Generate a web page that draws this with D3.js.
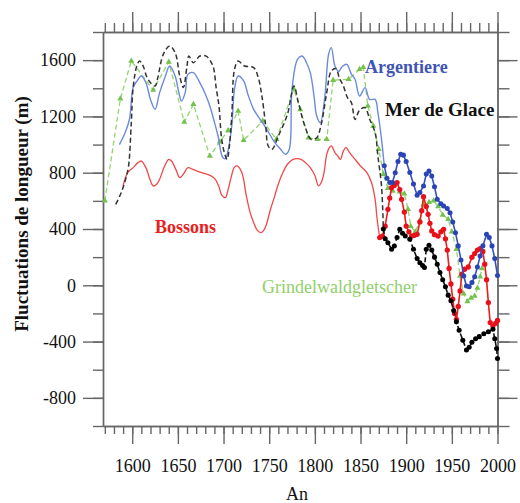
<!DOCTYPE html>
<html>
<head>
<meta charset="utf-8">
<script src="https://cdn.jsdelivr.net/npm/d3@7"></script>
<style>
  body { margin: 0; background: #fff; }
  svg { display: block; }
</style>
</head>
<body>
<div id="chart"></div>
<script>
// glacier length fluctuations: [year, metres]
const argentiereHist = [[1586,1000],[1592,1080],[1597,1180],[1601,1405],[1605,1450],[1610,1487],[1615,1440],[1620,1320],[1625,1250],[1630,1369],[1636,1480],[1641,1558],[1647,1487],[1651,1370],[1654,1309],[1658,1369],[1661,1499],[1667,1511],[1674,1440],[1680,1360],[1685,1274],[1690,1160],[1694,1061],[1699,910],[1702,900],[1705,960],[1709,1132],[1712,1393],[1716,1487],[1722,1452],[1727,1350],[1733,1250],[1739,1190],[1745,1132],[1750,1080],[1755,1025],[1762,970],[1768,931],[1772,966],[1775,1393],[1781,1606],[1786,1629],[1791,1580],[1795,1511],[1799,1350],[1802,1203],[1806,1156],[1811,1345],[1815,1640],[1818,1689],[1822,1558],[1826,1520],[1830,1555],[1835,1570],[1840,1500],[1844,1464],[1849,1345],[1855,1405],[1860,1321],[1866,1321],[1869,1229],[1873,1037],[1876,850]];
const argentiereObs = [[1876,850],[1879,760],[1882,730],[1885,730],[1888,800],[1891,880],[1894,931],[1897,925],[1900,880],[1904,801],[1908,720],[1912,640],[1915,660],[1919,706],[1922,790],[1925,812],[1928,777],[1931,700],[1934,611],[1938,580],[1941,564],[1945,545],[1948,516],[1951,450],[1954,374],[1957,280],[1960,180],[1963,66],[1966,-5],[1969,-10],[1972,20],[1975,60],[1978,130],[1981,208],[1984,280],[1988,362],[1991,339],[1994,280],[1997,190],[2000,70]];

const bossonsHist = [[1590,706],[1595,801],[1601,836],[1606,870],[1610,883],[1615,836],[1619,760],[1623,706],[1627,720],[1630,753],[1635,840],[1640,895],[1643,883],[1648,820],[1652,765],[1656,790],[1661,836],[1666,825],[1671,812],[1676,800],[1682,789],[1687,775],[1691,753],[1695,700],[1698,640],[1702,623],[1705,680],[1708,760],[1712,840],[1715,848],[1720,801],[1725,634],[1729,520],[1733,445],[1737,390],[1741,374],[1744,390],[1747,433],[1751,530],[1756,634],[1760,720],[1765,801],[1770,860],[1776,895],[1781,900],[1785,895],[1790,870],[1795,836],[1800,780],[1804,706],[1807,730],[1810,800],[1813,930],[1816,980],[1818,990],[1822,943],[1825,920],[1828,895],[1831,950],[1834,980],[1838,943],[1844,895],[1850,848],[1857,801],[1862,730],[1866,611],[1868,480],[1871,339]];
const bossonsObs = [[1871,339],[1874,350],[1877,420],[1880,540],[1882,620],[1884,694],[1887,710],[1890,730],[1893,680],[1895,611],[1898,520],[1900,421],[1903,380],[1906,350],[1909,355],[1912,362],[1915,450],[1917,530],[1919,630],[1922,560],[1924,504],[1926,440],[1928,386],[1931,360],[1935,350],[1938,380],[1941,398],[1943,330],[1945,250],[1947,120],[1949,10],[1951,-99],[1953,-200],[1955,-242],[1957,-150],[1959,-40],[1961,80],[1964,114],[1968,130],[1972,200],[1975,225],[1978,250],[1981,260],[1984,240],[1986,150],[1988,40],[1990,-123],[1992,-265],[1995,-290],[1998,-270],[2000,-250]];

const merDeGlaceHist = [[1582,575],[1588,659],[1593,760],[1596,848],[1599,1156],[1601,1405],[1605,1558],[1608,1594],[1612,1558],[1616,1480],[1620,1440],[1625,1416],[1628,1476],[1634,1641],[1641,1700],[1647,1653],[1652,1487],[1656,1405],[1660,1558],[1662,1629],[1667,1582],[1674,1629],[1681,1629],[1686,1590],[1689,1547],[1692,1400],[1695,1274],[1698,1037],[1702,919],[1704,895],[1706,966],[1709,1203],[1712,1535],[1716,1594],[1723,1558],[1733,1547],[1738,1476],[1742,1345],[1746,1144],[1749,990],[1753,966],[1760,1061],[1770,1215],[1777,1416],[1782,1298],[1789,1132],[1796,1037],[1802,1049],[1807,1144],[1813,1369],[1818,1523],[1823,1540],[1827,1470],[1831,1420],[1836,1330],[1840,1298],[1844,1179],[1849,1245],[1855,1262],[1860,1180],[1866,1085],[1869,919],[1873,706],[1875,400]];
const merDeGlaceObs = [[1875,400],[1877,330],[1880,303],[1884,256],[1887,279],[1890,340],[1893,398],[1896,370],[1899,350],[1904,327],[1908,256],[1912,190],[1915,160],[1918,140],[1920,126],[1922,256],[1925,285],[1928,250],[1931,200],[1934,150],[1937,90],[1940,40],[1943,-10],[1946,-70],[1949,-110],[1952,-180],[1955,-260],[1958,-320],[1962,-390],[1966,-460],[1969,-440],[1972,-405],[1976,-380],[1980,-365],[1985,-345],[1990,-330],[1995,-313],[1997,-380],[1999,-450],[2000,-520]];

const grindelwald = [[1570,600],[1587,1326],[1599,1594],[1623,1388],[1640,1587],[1657,1160],[1667,1286],[1685,919],[1696,1020],[1705,1100],[1716,1238],[1722,1030],[1743,1167],[1758,1037],[1777,1395],[1784,1250],[1793,1049],[1803,1037],[1813,1037],[1820,1458],[1837,1464],[1849,1535],[1853,1550],[1858,1274],[1864,1132],[1870,966],[1875,790],[1880,690],[1885,670],[1893,665],[1898,650],[1902,540],[1905,420],[1910,380],[1915,460],[1919,575],[1925,590],[1930,600],[1935,560],[1940,500],[1946,469],[1950,380],[1955,256],[1959,66],[1963,-60],[1967,-115],[1971,-90],[1975,-76],[1978,-20],[1981,60],[1983,120]];

// axis ticks
const yearMajor = d3.range(1600, 2001, 50);
const yearMinor = d3.range(1570, 2001, 10);
const lengthMajor = [-800, -400, 0, 400, 800, 1200, 1600];
const lengthMinor = d3.range(-1000, 1801, 200);

const width = 520;
const height = 503;
const font = "'Liberation Serif', 'Times New Roman', serif";

const svg = d3.select("#chart").append("svg")
    .attr("width", width)
    .attr("height", height);

const x = d3.scaleLinear().domain([1568, 2000]).range([103, 497.5]);
const y = d3.scaleLinear().domain([-1000, 1800]).range([426, 32]);

// four framed axes, ticks pointing outward
const axisColor = "#666";
const drawAxis = (axis, transform, labels) => {
    const g = svg.append("g").attr("transform", transform).call(axis);
    g.selectAll("path, line").attr("stroke", axisColor).attr("stroke-width", 1.4);
    if (!labels) g.selectAll("text").remove();
    return g;
};

// plain hyphen for negatives, like the original
const plain = (d) => String(d);

drawAxis(d3.axisBottom(x).tickValues(yearMinor).tickSize(8).tickSizeOuter(0).tickFormat(""), "translate(0,426)");
drawAxis(d3.axisTop(x).tickValues(yearMinor).tickSize(9).tickSizeOuter(0).tickFormat(""), "translate(0,32)");
drawAxis(d3.axisLeft(y).tickValues(lengthMinor).tickSize(10).tickSizeOuter(0).tickFormat(""), "translate(103,0)");
drawAxis(d3.axisRight(y).tickValues(lengthMinor).tickSize(12).tickSizeOuter(0).tickFormat(""), "translate(497.5,0)");

const bottomMajor = drawAxis(d3.axisBottom(x).tickValues(yearMajor).tickSize(18).tickSizeOuter(0).tickPadding(15).tickFormat(plain), "translate(0,426)", true);
drawAxis(d3.axisTop(x).tickValues(yearMajor).tickSize(20).tickSizeOuter(0).tickFormat(""), "translate(0,32)");
const leftMajor = drawAxis(d3.axisLeft(y).tickValues(lengthMajor).tickSize(20).tickSizeOuter(0).tickPadding(7).tickFormat(plain), "translate(103,0)", true);
drawAxis(d3.axisRight(y).tickValues(lengthMajor).tickSize(20).tickSizeOuter(0).tickFormat(""), "translate(497.5,0)");

bottomMajor.selectAll("text")
    .attr("font-family", font).attr("font-size", 18).attr("fill", "#111");
leftMajor.selectAll("text")
    .attr("font-family", font).attr("font-size", 18).attr("fill", "#111");

// axis titles
svg.append("text")
    .attr("transform", "translate(28,214) rotate(-90)")
    .attr("text-anchor", "middle")
    .attr("font-family", font).attr("font-size", 19).attr("font-weight", "bold")
    .attr("fill", "#111")
    .text("Fluctuations de longueur (m)");

svg.append("text")
    .attr("x", 297).attr("y", 500)
    .attr("text-anchor", "middle")
    .attr("font-family", font).attr("font-size", 18)
    .attr("fill", "#111")
    .text("An");

// lines
const smooth = d3.line().x((d) => x(d[0])).y((d) => y(d[1])).curve(d3.curveCatmullRom.alpha(0.5));
const straight = d3.line().x((d) => x(d[0])).y((d) => y(d[1]));

const drawLine = (data, line, color, w, dash) =>
    svg.append("path")
        .datum(data)
        .attr("d", line)
        .attr("fill", "none")
        .attr("stroke", color)
        .attr("stroke-width", w)
        .attr("stroke-dasharray", dash || null);

const drawMarkers = (data, type, size, color) =>
    svg.append("g").selectAll("path").data(data).enter().append("path")
        .attr("transform", (d) => "translate(" + x(d[0]) + "," + y(d[1]) + ")")
        .attr("d", d3.symbol().type(type).size(size))
        .attr("fill", color);

drawLine(grindelwald, straight, "#95d46e", 1.3, "5,3");
drawMarkers(grindelwald, d3.symbolTriangle, 16, "#74c24e");

drawLine(bossonsHist, smooth, "#f04848", 1.3);
drawLine(bossonsObs, straight, "#ee1c1c", 1.6);
drawMarkers(bossonsObs, d3.symbolCircle, 22, "#e8101a");

drawLine(argentiereHist, smooth, "#6c8ade", 1.4);
drawLine(argentiereObs, straight, "#3550c0", 1.6);
drawMarkers(argentiereObs, d3.symbolCircle, 20, "#2a44b5");

drawLine(merDeGlaceHist, smooth, "#333", 1.5, "5,3");
drawLine(merDeGlaceObs, straight, "#111", 1.6, "5,3");
drawMarkers(merDeGlaceObs, d3.symbolCircle, 20, "#000");

// series names
const labels = [
    { text: "Argentiere", x: 365, y: 73, color: "#3f55b5", size: 18, weight: "bold" },
    { text: "Mer de Glace", x: 385, y: 116, color: "#111", size: 19, weight: "bold" },
    { text: "Bossons", x: 155, y: 233, color: "#e82020", size: 18, weight: "bold" },
    { text: "Grindelwaldgletscher", x: 262, y: 293, color: "#8fd06a", size: 18, weight: "normal" },
];

svg.selectAll(".series-label").data(labels).enter().append("text")
    .attr("class", "series-label")
    .attr("x", (d) => d.x).attr("y", (d) => d.y)
    .attr("font-family", font)
    .attr("font-size", (d) => d.size)
    .attr("font-weight", (d) => d.weight)
    .attr("fill", (d) => d.color)
    .text((d) => d.text);
</script>
</body>
</html>
